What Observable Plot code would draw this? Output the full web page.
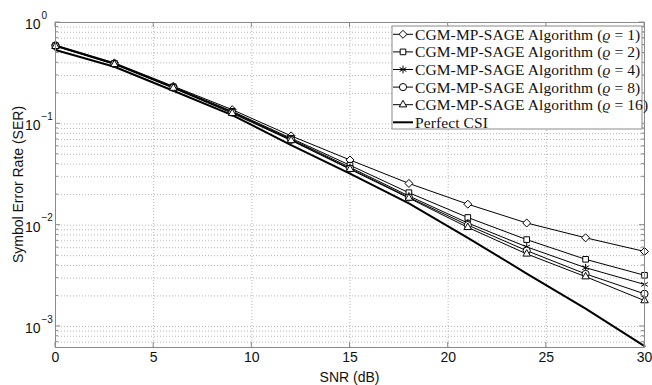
<!DOCTYPE html>
<html><head><meta charset="utf-8">
<script src="https://cdn.jsdelivr.net/npm/d3@7"></script>
<script src="https://cdn.jsdelivr.net/npm/@observablehq/plot@0.6"></script>
<style>body{margin:0;background:#fff;} #chart svg{display:block;}</style>
</head><body><div id="chart"></div>
<script>
// ---- data ----
const snr = [0, 3, 6, 9, 12, 15, 18, 21, 24, 27, 30];
const serRho1  = [0.600, 0.400, 0.235, 0.138, 0.0760, 0.0440, 0.0258, 0.0161, 0.0105, 0.0075, 0.0055];
const serRho2  = [0.592, 0.395, 0.232, 0.133, 0.0720, 0.0390, 0.0209, 0.0119, 0.0072, 0.0046, 0.0032];
const serRho4  = [0.590, 0.392, 0.229, 0.131, 0.0705, 0.0372, 0.0194, 0.0105, 0.0061, 0.0038, 0.0026];
const serRho8  = [0.586, 0.390, 0.227, 0.129, 0.0695, 0.0362, 0.0188, 0.0100, 0.0056, 0.0033, 0.0021];
const serRho16 = [0.582, 0.386, 0.225, 0.127, 0.0685, 0.0356, 0.0185, 0.0095, 0.0052, 0.0031, 0.0018];
const serPerfect = [0.535, 0.366, 0.212, 0.122, 0.0616, 0.0323, 0.0164, 0.0075, 0.00333, 0.0015, 0.00064];

const algNames = ["ρ1", "ρ2", "ρ4", "ρ8", "ρ16"];
const algRhos = ["1", "2", "4", "8", "16"];
const algSymbols = ["diamond2", "square2", "asterisk", "circle", "triangle2"];
const algSeries = [serRho1, serRho2, serRho4, serRho8, serRho16];
const perfectName = "Perfect CSI";

const xTicks = [0, 5, 10, 15, 20, 25, 30];
const yDecades = [1, 0.1, 0.01, 0.001];
const yExponents = ["0", "\u22121", "\u22122", "\u22123"];
const yDomain = [6.2e-4, 1];

// build tables
const algRows = [];
algSeries.forEach((vals, i) => vals.forEach((v, j) => algRows.push({series: algNames[i], snr: snr[j], ser: v})));
const perfRows = serPerfect.map((v, j) => ({series: perfectName, snr: snr[j], ser: v}));

const yMinor = [];
for (const d of [1e-4, 1e-3, 1e-2, 1e-1]) for (let k = 2; k <= 9; k++) {
  const v = k * d; if (v >= yDomain[0] && v <= yDomain[1]) yMinor.push(v);
}
const yGrid = yDecades.concat(yMinor);

const gridStyle = {stroke: "#b8b8b8", strokeDasharray: "1,2", strokeWidth: 1};
const sans = "Liberation Sans, Arial, sans-serif";

const plot = Plot.plot({
  width: 652, height: 385,
  marginLeft: 55, marginRight: 8, marginTop: 22, marginBottom: 38,
  style: {background: "#fff", fontFamily: sans},
  x: {domain: [0, 30], axis: null},
  y: {type: "log", domain: yDomain, axis: null},
  symbol: {domain: algNames, range: algSymbols},
  marks: [
    Plot.ruleX(xTicks.filter(d => d > 0 && d < 30), gridStyle),
    Plot.ruleY(yGrid.filter(d => d < 1), gridStyle),
    Plot.line(algRows, {x: "snr", y: "ser", z: "series", stroke: "black", strokeWidth: 1}),
    Plot.line(perfRows, {x: "snr", y: "ser", stroke: "black", strokeWidth: 2}),
    Plot.dot(algRows, {x: "snr", y: "ser", symbol: "series", stroke: "black", fill: "white", r: 3.6, strokeWidth: 1}),
    Plot.frame({stroke: "#8a8a8a"}),
    Plot.text(xTicks, {x: d => d, frameAnchor: "bottom", dy: 14, text: d => String(d), fontSize: 14, fill: "#111"}),
    Plot.text(yDecades, {y: d => d, frameAnchor: "left", dx: -15, dy: 2, textAnchor: "end", text: () => "10", fontSize: 14, fill: "#111"}),
    Plot.text(yDecades, {y: d => d, frameAnchor: "left", dx: -14, dy: -7, textAnchor: "start", text: (d, i) => yExponents[i], fontSize: 10, fill: "#111"})
  ]
});

document.getElementById("chart").appendChild(plot);
const svg = d3.select(plot);
const xs = plot.scale("x"), ys = plot.scale("y");
const x0 = xs.apply(0), x1 = xs.apply(30), yT = ys.apply(yDomain[1]), yB = ys.apply(yDomain[0]);

// inward ticks
const tg = svg.append("g").attr("stroke", "#8a8a8a").attr("stroke-width", 1);
for (const v of yGrid) {
  const y = ys.apply(v), len = yDecades.includes(v) ? 5 : 3;
  tg.append("line").attr("x1", x0).attr("x2", x0 + len).attr("y1", y).attr("y2", y);
  tg.append("line").attr("x1", x1).attr("x2", x1 - len).attr("y1", y).attr("y2", y);
}
for (const v of xTicks) {
  const x = xs.apply(v);
  tg.append("line").attr("x1", x).attr("x2", x).attr("y1", yB).attr("y2", yB - 5);
  tg.append("line").attr("x1", x).attr("x2", x).attr("y1", yT).attr("y2", yT + 5);
}

// axis titles
svg.append("text").attr("transform", `translate(18,${(yT + yB) / 2}) rotate(-90)`)
  .attr("text-anchor", "middle").attr("dy", "0.35em")
  .attr("font-family", sans).attr("font-size", 14).attr("fill", "#111")
  .text("Symbol Error Rate (SER)");
svg.append("text").attr("x", (x0 + x1) / 2).attr("y", 377).attr("dy", "0.35em")
  .attr("text-anchor", "middle").attr("font-family", sans).attr("font-size", 14).attr("fill", "#111")
  .text("SNR (dB)");

// legend
const lg = svg.append("g").attr("text-anchor", "start");
const lx = 392, ly = 26, lw = 250, lh = 103, rowH = 17.6;
lg.append("rect").attr("x", lx).attr("y", ly).attr("width", lw).attr("height", lh)
  .attr("fill", "white").attr("stroke", "#8a8a8a");
const serif = "Liberation Serif, Times New Roman, serif";
const entries = algNames.map((n, i) => ({name: n, rho: algRhos[i], sym: algSymbols[i], w: 1}))
  .concat([{name: perfectName, rho: null, sym: null, w: 2}]);
const symMap = {diamond2: d3.symbolDiamond2, square2: d3.symbolSquare2, asterisk: d3.symbolAsterisk, circle: d3.symbolCircle, triangle2: d3.symbolTriangle2};
entries.forEach((e, i) => {
  const cy = ly + 8.3 + i * rowH;
  lg.append("line").attr("x1", lx + 1).attr("x2", lx + 21).attr("y1", cy).attr("y2", cy)
    .attr("stroke", "black").attr("stroke-width", e.w);
  if (e.sym) {
    lg.append("path").attr("d", d3.symbol(symMap[e.sym], Math.PI * 3.6 * 3.6)())
      .attr("transform", `translate(${lx + 11},${cy})`).attr("fill", "white").attr("stroke", "black");
  }
  const t = lg.append("text").attr("x", lx + 23).attr("y", cy).attr("dy", "0.35em")
    .attr("text-anchor", "start").attr("letter-spacing", "0.1px")
    .attr("font-family", serif).attr("font-size", 15.5).attr("fill", "#111");
  if (e.rho) {
    t.append("tspan").text("CGM-MP-SAGE Algorithm (");
    t.append("tspan").attr("font-style", "italic").text("\u03f1");
    t.append("tspan").text(" = " + e.rho + ")");
  } else {
    t.text(e.name);
  }
});
</script>
</body></html>
